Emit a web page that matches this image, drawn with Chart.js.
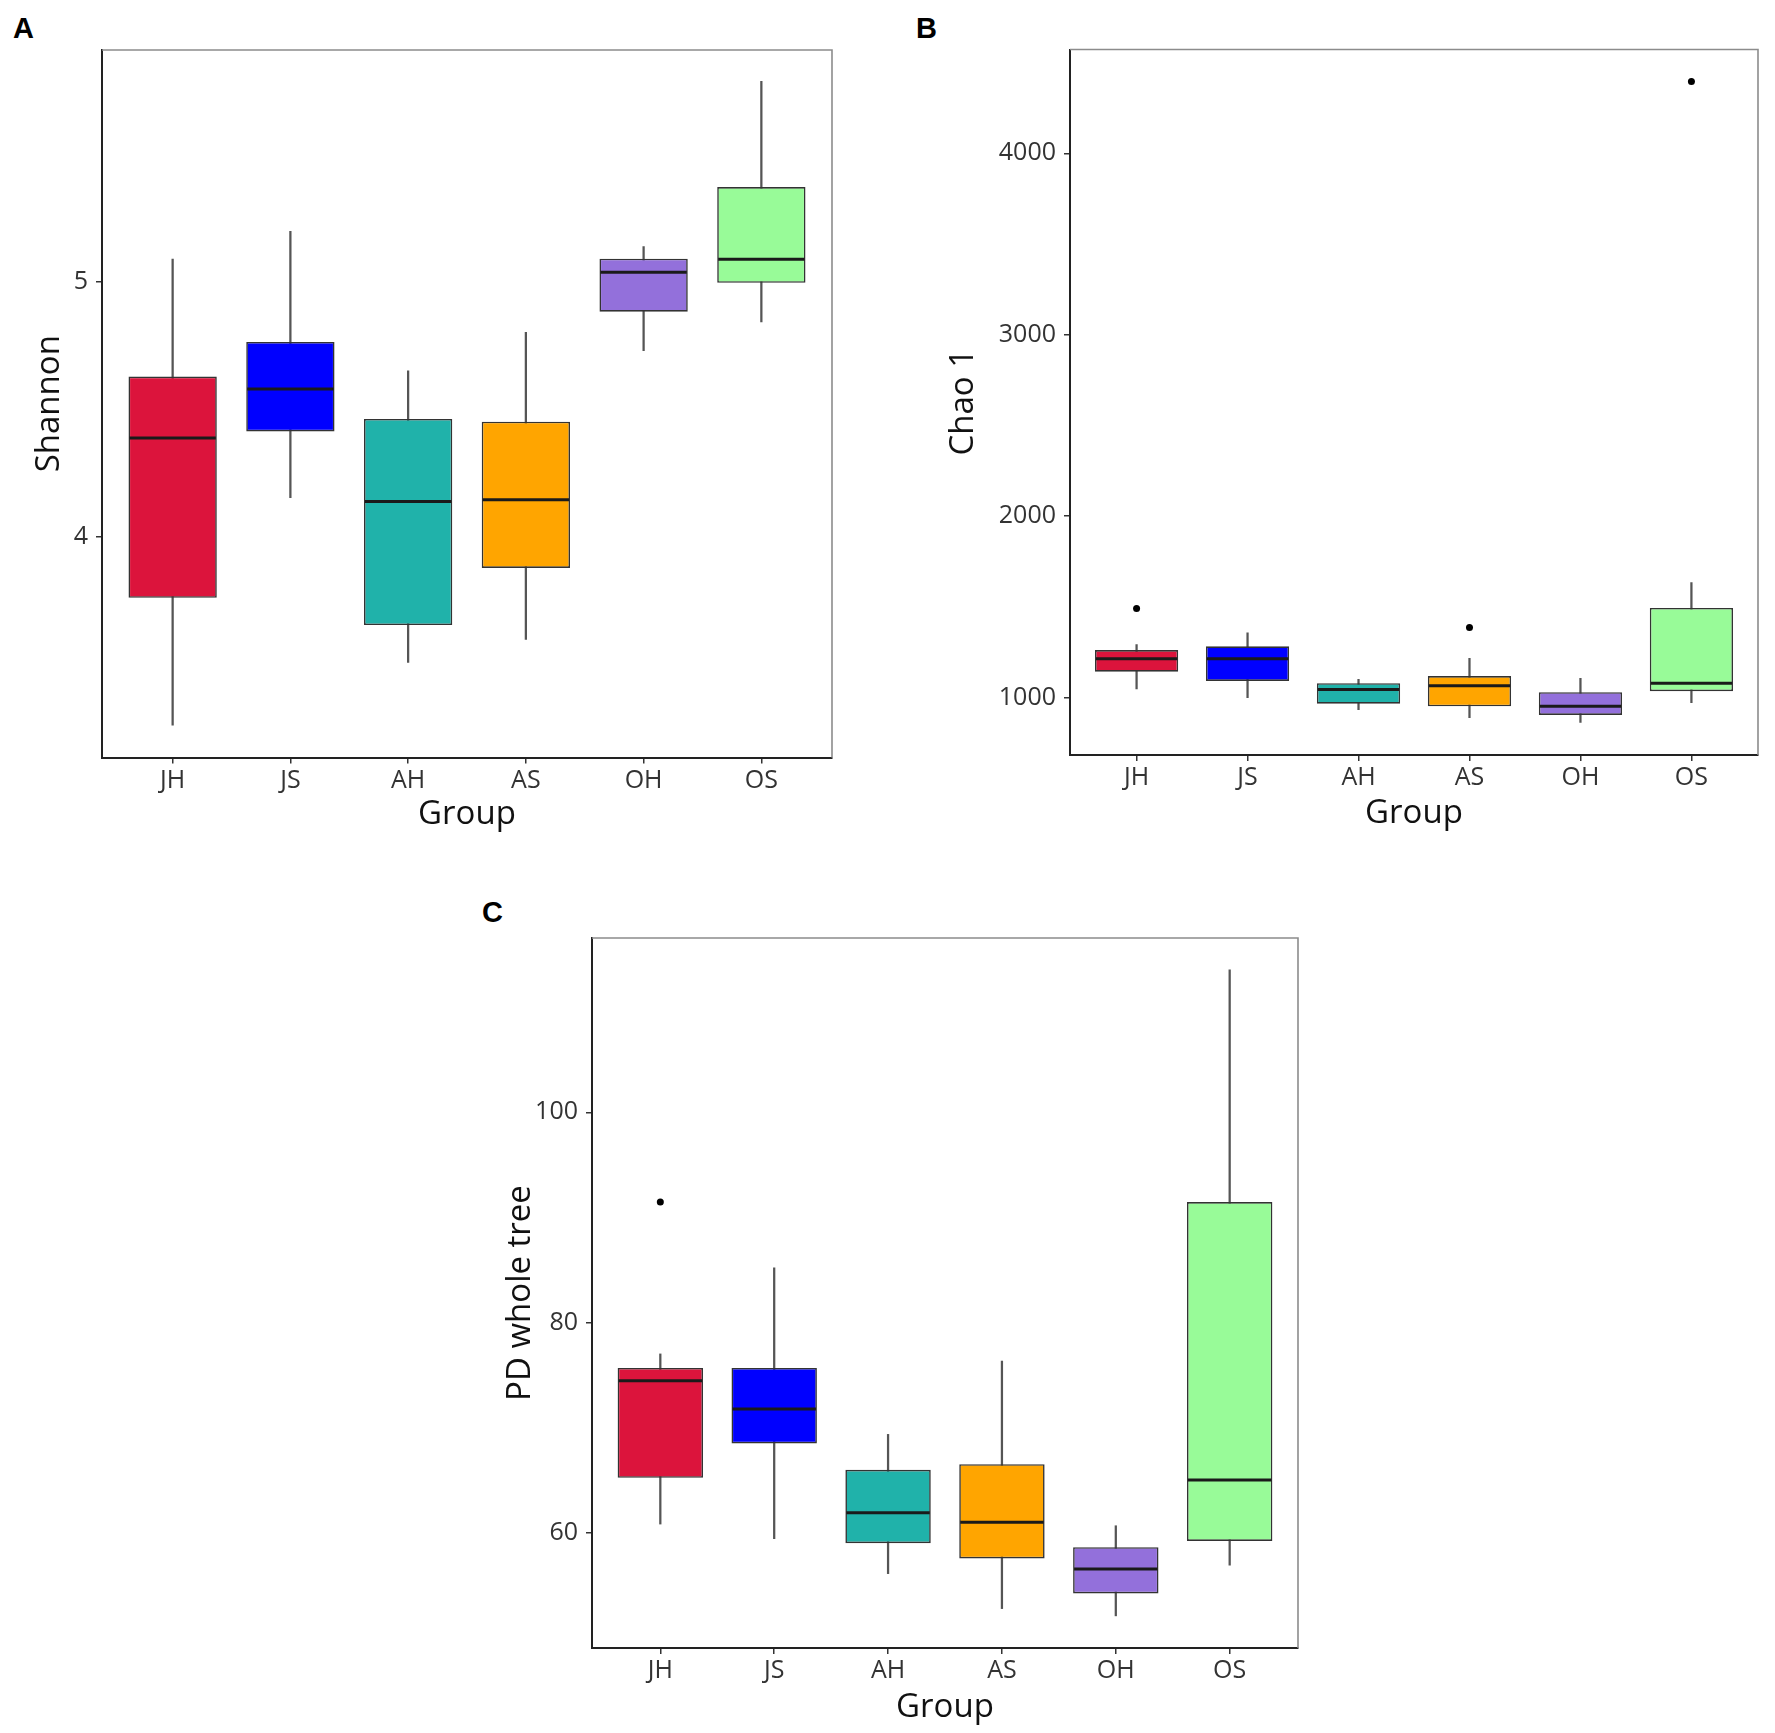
<!DOCTYPE html>
<html>
<head>
<meta charset="utf-8">
<script src="https://cdn.jsdelivr.net/npm/chart.js@4.4.1/dist/chart.umd.min.js"></script>
<style>
  body { margin: 0; background: #fff; width: 1775px; height: 1733px; position: relative; overflow: hidden; }
  canvas { position: absolute; }
  .tag { position: absolute; font: bold 29px Arial, "Liberation Sans", sans-serif; color: #000; line-height: 1; }
</style>
</head>
<body>
<div class="tag" style="left:13px;top:14px">A</div>
<div class="tag" style="left:916px;top:14px">B</div>
<div class="tag" style="left:482px;top:898px">C</div>
<canvas id="shannon-chart" width="850" height="850" style="left:0;top:0"></canvas>
<canvas id="chao-chart" width="915" height="850" style="left:860px;top:0"></canvas>
<canvas id="pd-chart" width="900" height="873" style="left:430px;top:860px"></canvas>
<script>
const groups = ['JH', 'JS', 'AH', 'AS', 'OH', 'OS'];
const groupColors = ['#DC143C', '#0000FF', '#20B2AA', '#FFA500', '#9370DB', '#98FB98'];

// Shannon
const shannonMin = [3.26, 4.153, 3.506, 3.596, 4.73, 4.843];
const shannonQ1 = [3.76, 4.413, 3.653, 3.877, 4.883, 4.996];
const shannonMedian = [4.387, 4.579, 4.138, 4.145, 5.038, 5.089];
const shannonQ3 = [4.628, 4.764, 4.462, 4.451, 5.091, 5.372];
const shannonMax = [5.089, 5.198, 4.651, 4.802, 5.138, 5.787];
const shannonOutliers = [];
const shannonTicks = [4, 5];

// Chao 1
const chaoMin = [1048, 1000, 934, 890, 863, 973];
const chaoQ1 = [1143, 1092, 967, 952, 905, 1036];
const chaoMedian = [1214, 1214, 1045, 1066, 952, 1080];
const chaoQ3 = [1262, 1283, 1080, 1119, 1030, 1494];
const chaoMax = [1292, 1357, 1101, 1217, 1107, 1634];
const chaoOutliers = [{ x: 1, y: 1491 }, { x: 4, y: 1387 }, { x: 6, y: 4396 }];
const chaoTicks = [1000, 2000, 3000, 4000];

// PD whole tree
const pdMin = [60.8, 59.41, 56.08, 52.75, 52.06, 56.89];
const pdQ1 = [65.2, 68.48, 58.98, 57.53, 54.2, 59.19];
const pdMedian = [74.44, 71.76, 61.88, 60.97, 56.51, 64.99];
const pdQ3 = [75.67, 75.67, 65.96, 66.5, 58.6, 91.46];
const pdMax = [77.0, 85.2, 69.34, 76.32, 60.64, 113.57];
const pdOutliers = [{ x: 1, y: 91.46 }];
const pdTicks = [60, 80, 100];

const FONT = '"Open Sans", "DejaVu Sans", sans-serif';

// median lines + grey top/right border of the panel
const boxExtras = {
  id: 'boxExtras',
  afterDatasetsDraw(chart, args, opts) {
    const ctx = chart.ctx;
    const yScale = chart.scales.y;
    const boxes = chart.getDatasetMeta(0).data;
    ctx.save();
    ctx.strokeStyle = '#1a1a1a';
    ctx.lineWidth = 3;
    boxes.forEach((bar, i) => {
      const py = yScale.getPixelForValue(opts.medians[i]);
      ctx.beginPath();
      ctx.moveTo(bar.x - bar.width / 2 + 1, py);
      ctx.lineTo(bar.x + bar.width / 2 - 1, py);
      ctx.stroke();
    });
    ctx.restore();
  },
  afterDraw(chart) {
    const { ctx, chartArea: a } = chart;
    ctx.save();
    ctx.strokeStyle = '#8c8c8c';
    ctx.lineWidth = 1.6;
    ctx.beginPath();
    ctx.moveTo(a.left, a.top);
    ctx.lineTo(a.right, a.top);
    ctx.lineTo(a.right, a.bottom);
    ctx.stroke();
    ctx.restore();
  }
};

function boxChart(id, s) {
  const ctx = document.getElementById(id).getContext('2d');
  return new Chart(ctx, {
    type: 'bar',
    data: {
      datasets: [{
        label: 'box',
        data: groups.map((g, i) => ({ x: i + 1, y: [s.q1[i], s.q3[i]] })),
        backgroundColor: groupColors,
        borderColor: '#333',
        borderWidth: 1.6,
        borderSkipped: false,
        barPercentage: 0.75,
        categoryPercentage: 1,
        grouped: false
      }, {
        label: 'whisker',
        data: groups.map((g, i) => ({ x: i + 1, y: [s.min[i], s.max[i]] })),
        backgroundColor: '#555',
        borderWidth: 0,
        barThickness: 1.6,
        grouped: false
      }, {
        type: 'line',
        label: 'outliers',
        data: s.outliers,
        showLine: false,
        pointRadius: 3.5,
        pointBackgroundColor: '#000',
        pointBorderWidth: 0
      }]
    },
    options: {
      responsive: false,
      animation: false,
      layout: { padding: s.padding },
      plugins: {
        legend: { display: false },
        tooltip: { enabled: false },
        boxExtras: { medians: s.median }
      },
      scales: {
        x: {
          type: 'linear',
          min: 0.4,
          max: 6.6,
          offset: false,
          afterBuildTicks: sc => { sc.ticks = groups.map((g, i) => ({ value: i + 1 })); },
          afterFit: sc => { sc.height = s.xHeight; },
          ticks: {
            autoSkip: false,
            maxRotation: 0,
            padding: 2,
            color: '#333',
            font: { family: FONT, size: 25 },
            callback: v => groups[v - 1]
          },
          grid: { offset: false, drawOnChartArea: false, drawTicks: true, tickLength: 6, color: '#333', lineWidth: 1.5 },
          border: { display: true, color: '#222', width: 2 },
          title: { display: true, text: 'Group', color: '#111', font: { family: FONT, size: 33 }, padding: { top: 0, bottom: s.xTitlePad } }
        },
        y: {
          min: s.yMin,
          max: s.yMax,
          beginAtZero: false,
          afterBuildTicks: sc => { sc.ticks = s.ticks.map(v => ({ value: v })); },
          afterFit: sc => { sc.width = s.yWidth; },
          ticks: { padding: 8, color: '#333', font: { family: FONT, size: 25 }, callback: v => String(v) },
          grid: { drawOnChartArea: false, drawTicks: true, tickLength: 6, color: '#333', lineWidth: 1.5 },
          border: { display: true, color: '#222', width: 2 },
          title: { display: true, text: s.yTitle, color: '#111', font: { family: FONT, size: 33 }, padding: { top: s.yTitlePad, bottom: 0 } }
        }
      }
    },
    plugins: [boxExtras]
  });
}

const shannonChart = boxChart('shannon-chart', {
  min: shannonMin, q1: shannonQ1, median: shannonMedian, q3: shannonQ3, max: shannonMax,
  outliers: shannonOutliers, ticks: shannonTicks, yMin: 3.133, yMax: 5.91, yTitle: 'Shannon',
  padding: { top: 50, right: 18, left: 0, bottom: 0 }, yWidth: 102, xHeight: 92.5,
  yTitlePad: 30, xTitlePad: 16
});

const chaoChart = boxChart('chao-chart', {
  min: chaoMin, q1: chaoQ1, median: chaoMedian, q3: chaoQ3, max: chaoMax,
  outliers: chaoOutliers, ticks: chaoTicks, yMin: 684, yMax: 4572, yTitle: 'Chao 1',
  padding: { top: 49.5, right: 17, left: 0, bottom: 0 }, yWidth: 210, xHeight: 95,
  yTitlePad: 84, xTitlePad: 17
});

const pdChart = boxChart('pd-chart', {
  min: pdMin, q1: pdQ1, median: pdMedian, q3: pdQ3, max: pdMax,
  outliers: pdOutliers, ticks: pdTicks, yMin: 49.0, yMax: 116.6, yTitle: 'PD whole tree',
  padding: { top: 78, right: 32, left: 0, bottom: 0 }, yWidth: 162, xHeight: 85,
  yTitlePad: 71, xTitlePad: 6
});
</script>
</body>
</html>
